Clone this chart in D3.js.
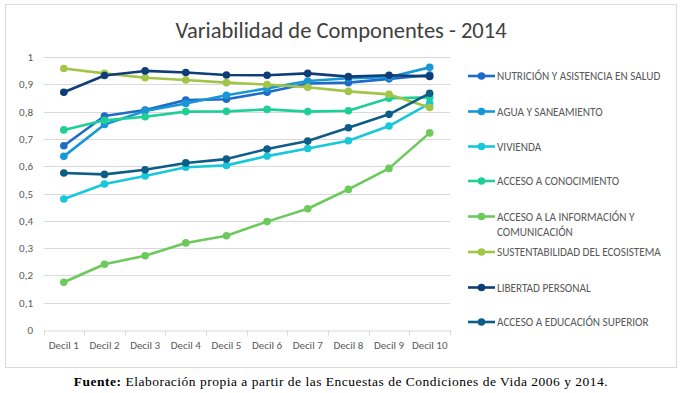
<!DOCTYPE html>
<html><head><meta charset="utf-8">
<script src="https://cdn.jsdelivr.net/npm/d3@7"></script>
<style>body{margin:0;background:#fff;} svg{display:block;}</style>
</head><body>
<svg id="c" width="696" height="393"></svg>
<script>
const categories = ["Decil 1","Decil 2","Decil 3","Decil 4","Decil 5","Decil 6","Decil 7","Decil 8","Decil 9","Decil 10"];
const yTicks = [0,0.1,0.2,0.3,0.4,0.5,0.6,0.7,0.8,0.9,1];
const seriesNames = ["NUTRICIÓN Y ASISTENCIA EN SALUD","AGUA Y SANEAMIENTO","VIVIENDA","ACCESO A CONOCIMIENTO","ACCESO A LA INFORMACIÓN Y COMUNICACIÓN","SUSTENTABILIDAD DEL ECOSISTEMA","LIBERTAD PERSONAL","ACCESO A EDUCACIÓN  SUPERIOR"];
const seriesColors = ["#1f6cc8","#1897d6","#17c8da","#1ecf97","#6cc95c","#a2c447","#0f3d78","#0d5d86"];
const nutricion = [0.675,0.784,0.806,0.842,0.845,0.871,0.903,0.906,0.920,0.934];
const agua = [0.636,0.753,0.802,0.830,0.860,0.885,0.912,0.922,0.926,0.962];
const vivienda = [0.480,0.535,0.564,0.596,0.603,0.637,0.665,0.693,0.747,0.830];
const conocimiento = [0.733,0.768,0.781,0.800,0.801,0.808,0.800,0.803,0.849,0.852];
const informacion = [0.175,0.241,0.272,0.319,0.345,0.397,0.444,0.515,0.592,0.722];
const sustentabilidad = [0.958,0.940,0.924,0.916,0.906,0.899,0.889,0.874,0.863,0.815];
const libertad = [0.871,0.932,0.949,0.943,0.934,0.933,0.940,0.928,0.933,0.929];
const educacion = [0.575,0.570,0.587,0.612,0.626,0.663,0.692,0.741,0.790,0.867];
const seriesValues = [nutricion,agua,vivienda,conocimiento,informacion,sustentabilidad,libertad,educacion];

const svg = d3.select("#c");
const grey = "#595959";
const sans = "Carlito, Lato, 'Open Sans', sans-serif";
svg.append("rect").attr("x",5.5).attr("y",4.5).attr("width",671).attr("height",363)
  .attr("fill","#fff").attr("stroke","#d9d9d9").attr("stroke-width",1);

svg.append("text").attr("x",341).attr("y",38).attr("text-anchor","middle")
  .attr("font-family",sans).attr("font-weight",300).attr("font-size",22.5).attr("fill","#404040")
  .text("Variabilidad de Componentes - 2014");

const x = d3.scaleBand().domain(categories).range([43.5,450]).padding(0);
const y = d3.scaleLinear().domain([0,1]).range([330,57]);

svg.append("g").selectAll("line").data(yTicks.slice(1)).join("line")
  .attr("x1",43.5).attr("x2",450).attr("y1",d=>Math.round(y(d))+0.5).attr("y2",d=>Math.round(y(d))+0.5)
  .attr("stroke","#d9d9d9").attr("stroke-width",1);

const xa = svg.append("g").attr("transform","translate(0,330.5)")
  .call(d3.axisBottom(x).tickSize(0).tickPadding(11));
xa.select(".domain").attr("stroke","#d9d9d9");
xa.selectAll("text").attr("font-family",sans).attr("font-size",11).attr("fill",grey);
const bounds = categories.map(c=>x(c)).concat([x(categories[categories.length-1])+x.bandwidth()]);
xa.selectAll(".bt").data(bounds).join("line").attr("class","bt")
  .attr("x1",d=>Math.round(d)+0.5).attr("x2",d=>Math.round(d)+0.5).attr("y1",0).attr("y2",5).attr("stroke","#d9d9d9");

svg.append("g").selectAll("text").data(yTicks).join("text")
  .attr("x",33).attr("y",d=>y(d)+4).attr("text-anchor","end")
  .attr("font-family",sans).attr("font-size",11).attr("fill",grey)
  .text(d=>d3.format(".1~f")(d).replace(".",","));

const cx = c => x(c)+x.bandwidth()/2;
const line = d3.line().x((d,i)=>cx(categories[i])).y(d=>y(d));
seriesValues.forEach((vals,si)=>{
  const g = svg.append("g");
  g.append("path").datum(vals).attr("d",line).attr("fill","none")
    .attr("stroke",seriesColors[si]).attr("stroke-width",2.6).attr("stroke-linejoin","round");
  g.selectAll("circle").data(vals).join("circle")
    .attr("cx",(d,i)=>cx(categories[i])).attr("cy",d=>y(d)).attr("r",3.8).attr("fill",seriesColors[si]);
});

const legY = [76,111.5,146.5,181,216.5,252,287.5,322];
seriesNames.forEach((n,i)=>{
  const g = svg.append("g").attr("transform",`translate(0,${legY[i]})`);
  g.append("line").attr("x1",468).attr("x2",495).attr("y1",0).attr("y2",0).attr("stroke",seriesColors[i]).attr("stroke-width",2.6);
  g.append("circle").attr("cx",481.5).attr("cy",0).attr("r",3.8).attr("fill",seriesColors[i]);
  const t = g.append("text").attr("x",497).attr("y",4)
    .attr("font-family",sans).attr("font-size",11.2).attr("fill",grey);
  if (i===4) {
    t.append("tspan").attr("x",497).attr("dy",0).text("ACCESO A LA INFORMACIÓN Y");
    t.append("tspan").attr("x",497).attr("dy",15).text("COMUNICACIÓN");
  } else t.text(n);
});

const f = svg.append("text").attr("x",341).attr("y",386).attr("text-anchor","middle")
  .attr("font-family","'Liberation Serif', serif").attr("font-size",13.5).attr("letter-spacing",0.5).attr("fill","#000");
f.append("tspan").attr("font-weight","bold").text("Fuente:");
f.append("tspan").text(" Elaboración propia a partir de las Encuestas de Condiciones de Vida 2006 y 2014.");
</script>
</body></html>
